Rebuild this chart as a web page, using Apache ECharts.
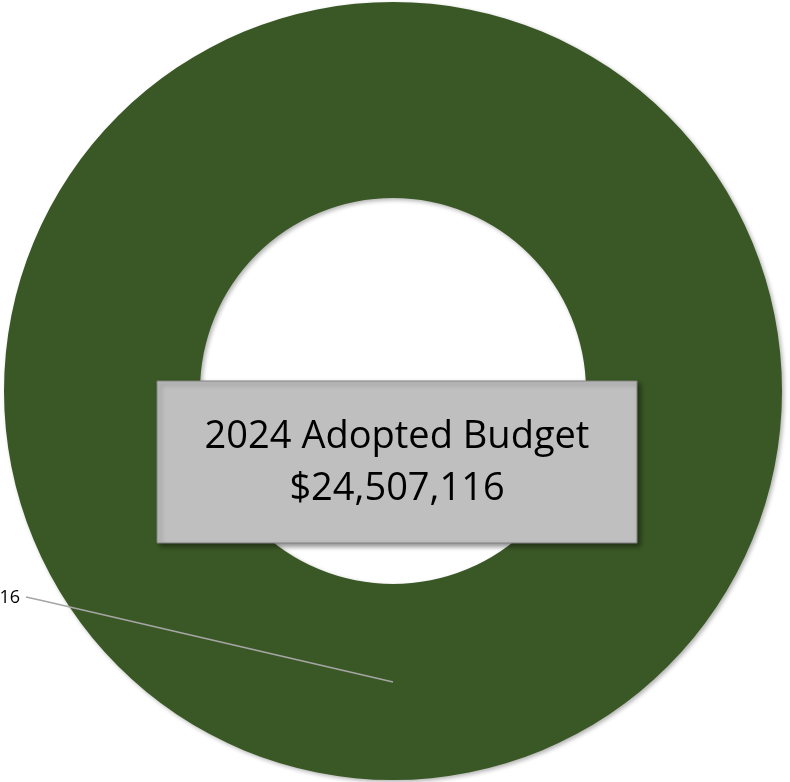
<!DOCTYPE html>
<html>
<head>
<meta charset="utf-8" />
<title>2024 Adopted Budget</title>
<script src="https://cdn.jsdelivr.net/npm/echarts@6/dist/echarts.min.js"></script>
<style>
  html, body { margin: 0; padding: 0; background: #fff; }
  #main { width: 790px; height: 782px; }
</style>
</head>
<body>
<div id="main"></div>
<script type="text/javascript">
// data
var categories = ['2024 Adopted Budget'];
var budgetValues = [24507116];
var budgetYear = '2024';

var myChart = echarts.init(document.getElementById('main'));

function money(v) {
  return '$' + String(v).replace(/\B(?=(\d{3})+(?!\d))/g, ',');
}
var total = budgetValues.reduce(function (a, b) { return a + b; }, 0);
var pieData = categories.map(function (c, i) {
  return { name: c, value: budgetValues[i] };
});

// ring geometry (layout only)
var cx = 393, cy = 391, rIn = 193, rOut = 389;

var option = {
  animation: false,
  graphic: {
    elements: [{
      type: 'rect',
      z: 100,
      zlevel: 1,
      shape: { x: 157, y: 381, width: 480, height: 162 },
      style: {
        fill: '#bfbfbf',
        stroke: '#808080',
        lineWidth: 1,
        shadowColor: 'rgba(0,0,0,0.45)',
        shadowBlur: 5,
        shadowOffsetX: 3,
        shadowOffsetY: 3
      }
    }, {
      type: 'text',
      z: 101,
      zlevel: 1,
      x: 397,
      y: 463,
      style: {
        text: budgetYear + ' Adopted Budget\n' + money(total),
        fontFamily: 'Open Sans',
        fontSize: 38,
        lineHeight: 52,
        fill: '#000',
        align: 'center',
        verticalAlign: 'middle'
      }
    }]
  },
  series: [{
    // the green ring
    type: 'pie',
    z: 2,
    center: [cx, cy],
    radius: [rIn, rOut],
    startAngle: 90,
    silent: true,
    itemStyle: {
      color: '#3a5825',
      shadowColor: 'rgba(0,0,0,0.3)',
      shadowBlur: 4,
      shadowOffsetX: 2,
      shadowOffsetY: 2
    },
    label: { show: false },
    labelLine: { show: false },
    data: pieData
  }, {
    // transparent copy carrying the data label above the ring
    type: 'pie',
    z: 3,
    center: [cx, cy],
    radius: [rIn, rOut],
    startAngle: 90,
    silent: true,
    itemStyle: { color: 'rgba(0,0,0,0)' },
    label: {
      show: true,
      position: 'outside',
      formatter: function (p) { return money(p.value); },
      fontFamily: 'Open Sans',
      fontSize: 18,
      color: '#000'
    },
    labelLine: {
      show: true,
      lineStyle: { color: '#a6a6a6', width: 1.5 }
    },
    labelLayout: function (params) {
      var mid = (90 - 180) * Math.PI / 180;
      var rMid = (rIn + rOut) / 2;
      var ax = cx + rMid * Math.cos(mid);
      var ay = cy - rMid * Math.sin(mid);
      return {
        x: 20,
        y: 598,
        align: 'right',
        verticalAlign: 'middle',
        labelLinePoints: [[ax, ay], [44, 601], [26, 597]]
      };
    },
    data: pieData
  }]
};

myChart.setOption(option);
</script>
</body>
</html>
